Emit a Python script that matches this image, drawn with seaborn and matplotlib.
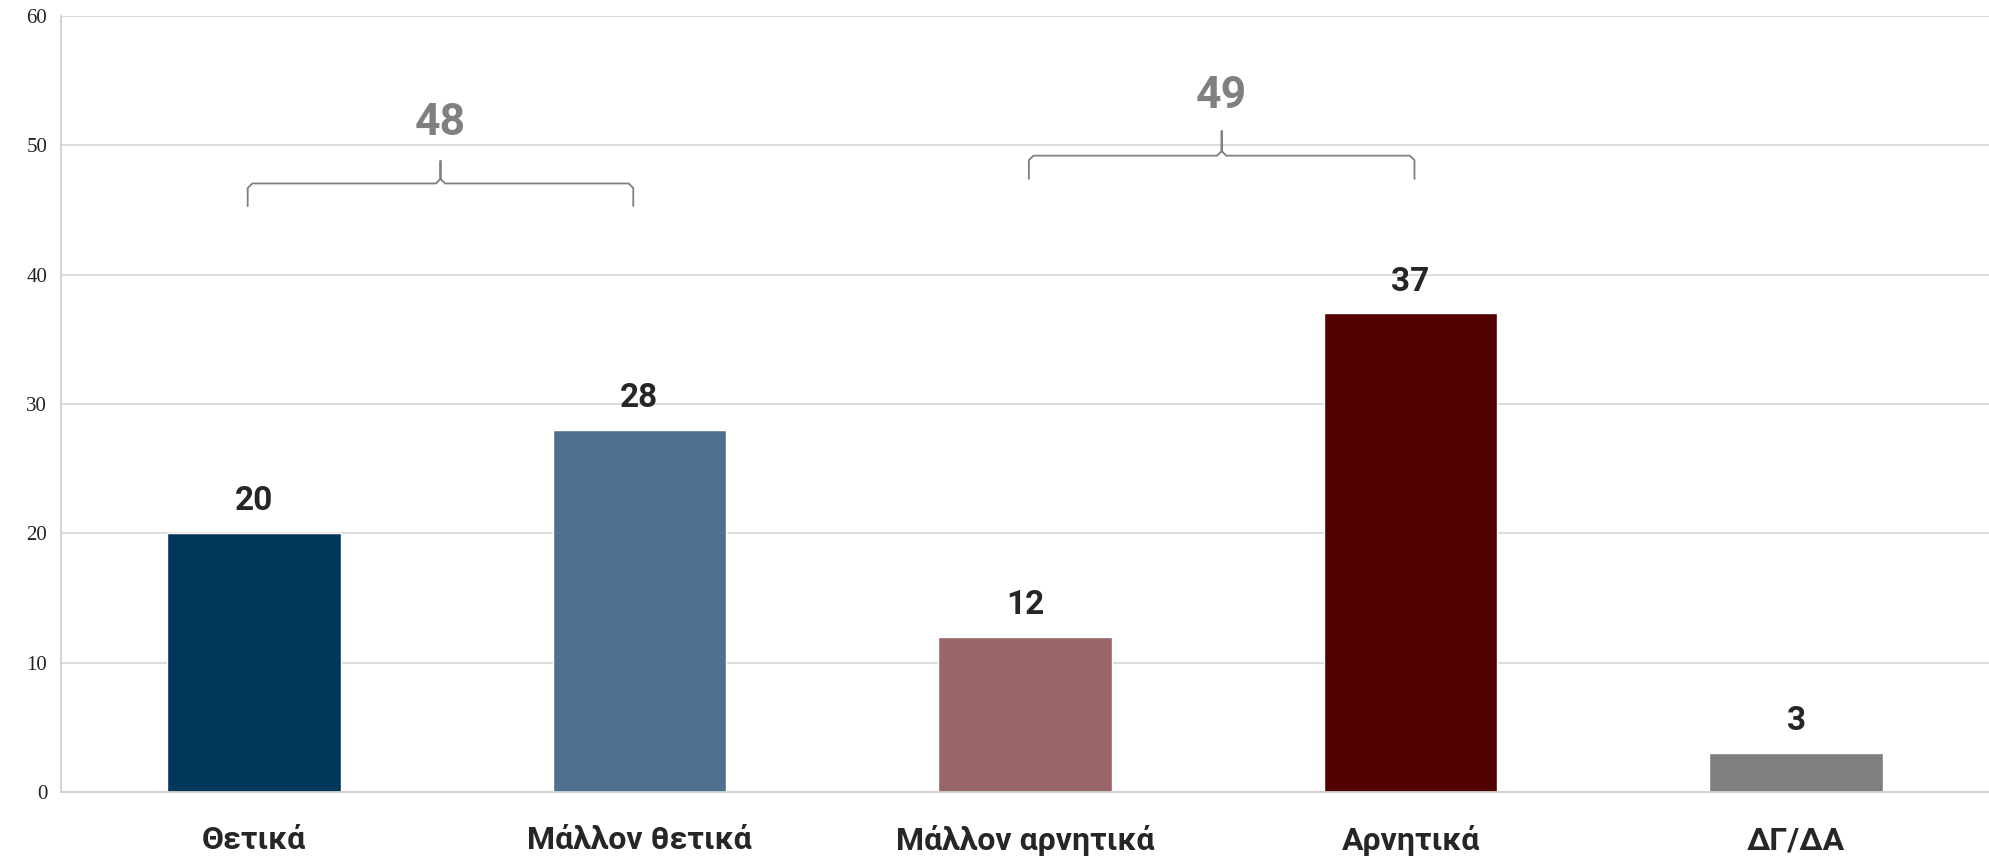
import numpy as np
import pandas as pd
import matplotlib
matplotlib.use("Agg")
import matplotlib.pyplot as plt
import seaborn as sns

# ------------------------------
# Data
# ------------------------------
categories = ["Θετικά", "Μάλλον θετικά", "Μάλλον αρνητικά", "Αρνητικά", "ΔΓ/ΔΑ"]
values = [20, 28, 12, 37, 3]
colors = ["#02375c", "#4e7191", "#986666", "#530000", "#7f7f7f"]

# grouped totals shown above the braces
group_labels = ["48", "49"]
group_members = [(0, 1), (2, 3)]
# brace heights (ends, bar, tip, label) in data units
brace_levels = [(45.3, 47.05, 48.8, 51.7), (47.4, 49.2, 51.1, 53.8)]
brace_shift = [-0.016, 0.01]

df = pd.DataFrame({"cat": categories, "val": values})

sns.set_style("white")
label_font = ["Liberation Sans Narrow", "Roboto", "DejaVu Sans"]

fig = plt.figure(figsize=(19.89, 8.59), dpi=100)
ax = fig.add_axes([0.0307, 0.078, 0.9693, 0.9034])

sns.barplot(data=df, x="cat", y="val", hue="cat", palette=colors,
            width=0.45, legend=False, ax=ax, saturation=1)

ax.set_ylim(0, 60)
ax.set_xlim(-0.5, 4.5)
ax.set_yticks(range(0, 61, 10))
ax.yaxis.grid(True, color="#d9d9d9", lw=1.3)
ax.set_axisbelow(True)
ax.set_xlabel("")
ax.set_ylabel("")

for s in ["top", "right"]:
    ax.spines[s].set_visible(False)
for s in ["left", "bottom"]:
    ax.spines[s].set_color("#d0d0d0")
    ax.spines[s].set_linewidth(1.3)

ax.set_xticks(range(len(categories)))
ax.set_xticklabels(categories, fontsize=23, fontweight="bold",
                   family=label_font, color="#262626")
ax.set_xticks(np.arange(-0.5, 4.6, 1), minor=True)
ax.tick_params(axis="x", which="major", length=0, pad=24)
ax.tick_params(axis="x", which="minor", length=10, color="#d0d0d0", width=1.3)
ax.tick_params(axis="y", length=6, color="#d0d0d0", width=1.3, pad=4)
for t in ax.get_yticklabels():
    t.set_family("Liberation Serif")
    t.set_fontsize(15)
    t.set_color("#222222")

# value labels
for i, v in enumerate(values):
    ax.annotate(str(v), (i, v), xytext=(0, 23), textcoords="offset points",
                ha="center", va="center", fontsize=24, fontweight="bold",
                family=label_font, color="#262626")

# braces with group totals
for lab, (a, b), (y0, y1, y2, yl), dx in zip(group_labels, group_members,
                                             brace_levels, brace_shift):
    xa, xb = a + dx, b + dx
    xm = (xa + xb) / 2
    r = 0.012
    h = 0.35
    xs = [xa, xa, xa + r, xm - r, xm, xm, xm, xm + r, xb - r, xb, xb]
    ys = [y0, y1 - h, y1, y1, y1 + h, y2, y1 + h, y1, y1, y1 - h, y0]
    ax.plot(xs, ys, color="#7f7f7f", lw=1.3)
    ax.text(xm, yl, lab, ha="center", va="center", fontsize=32,
            fontweight="bold", family=label_font, color="#808080")

fig.savefig("out.png", dpi=100)
